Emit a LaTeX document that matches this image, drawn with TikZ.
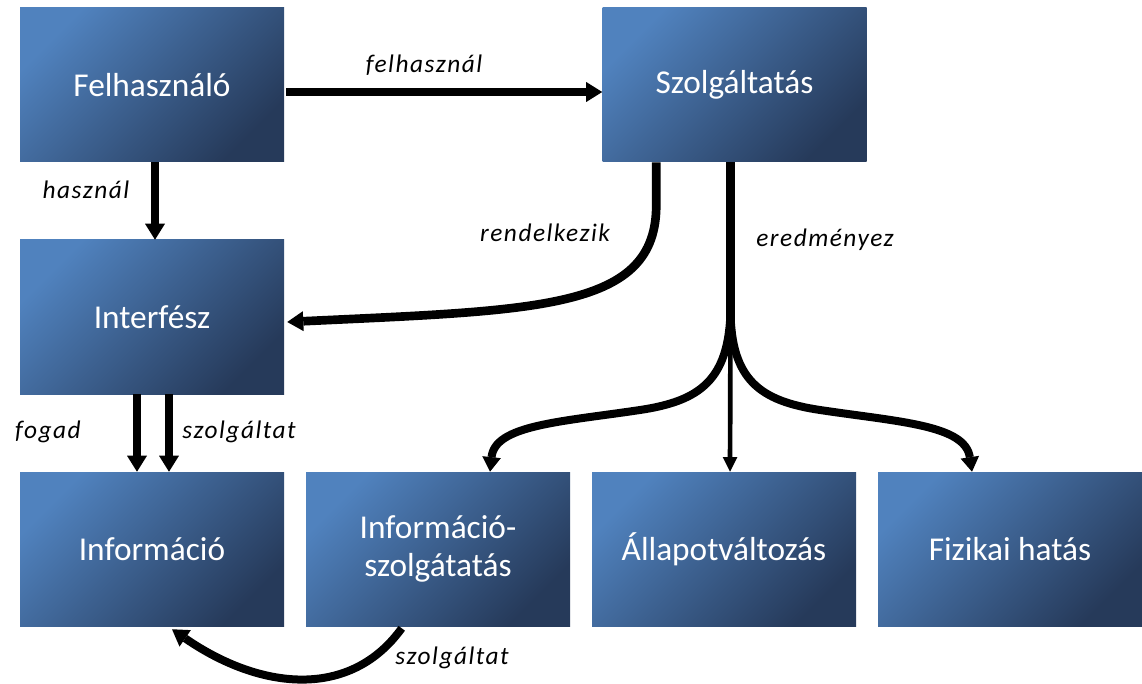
\documentclass[tikz,border=0pt]{standalone}
\usepackage{fontspec}
\setmainfont{Carlito}
\newfontfamily\labelfont[LetterSpace=6]{Carlito}
\usetikzlibrary{arrows.meta,calc}
\definecolor{boxlight}{RGB}{80,130,190}
\definecolor{boxdark}{RGB}{38,58,90}
\begin{document}
\begin{tikzpicture}[x=0.75pt,y=-0.75pt,
  box/.style={rectangle, minimum width=198pt, minimum height=115.5pt, inner sep=0pt,
    text=white, align=center, font=\fontsize{25}{29}\selectfont,
    top color=boxlight, bottom color=boxdark, shading angle=45},
  lbl/.style={font=\labelfont\itshape\fontsize{19}{22}\selectfont, inner sep=0pt},
  tip/.style={-{Triangle[length=12pt,width=15pt,line width=0pt]}},
  conn/.style={tip, line width=6.5pt},
  branch/.style={-{Triangle[length=11pt,width=14pt,line width=0pt]}, line width=6pt},
  thin conn/.style={-{Triangle[length=11pt,width=11pt,line width=0pt]}, line width=3.5pt}]
\useasboundingbox (0,0) rectangle (1142,684);

% boxes
\node[box] (felh)   at (152,85)    {Felhasználó};
\node[box] (szolg)  at (734.5,85)  {Szolgáltatás};
\node[box] (interf) at (152,317)   {Interfész};
\node[box] (info)   at (152,549)   {Információ};
\node[box] (iszolg) at (438,549)   {Információ-\\szolgátatás};
\node[box] (allap)  at (724,549)   {Állapotváltozás};
\node[box] (fiz)    at (1010,549)  {Fizikai hatás};

% straight connectors
\draw[conn] ($(felh.east)+(2,7)$) -- ($(szolg.west)+(0,7)$);
\draw[conn] ($(felh.south)+(3,0)$) -- ($(interf.north)+(3,0)$);
\draw[conn, line width=6pt] ($(interf.south)+(-15,0)$) -- ($(info.north)+(-15,0)$);
\draw[conn, line width=6pt] ($(interf.south)+(17,0)$) -- ($(info.north)+(17,0)$);

% rendelkezik
\draw[conn] ($(szolg.south west)+(54,0)$) -- ++(0,42)
  .. controls (657,310) and (540,310) .. ($(interf.east)+(3,5)$);

% eredményez: stem and three branches
\coordinate (fork) at ($(szolg.south)+(-4,148)$);
\draw[line width=6.5pt] ($(szolg.south)+(-4,0)$) -- ($(fork)+(0,18)$);
\draw[branch] (fork) .. controls (729,380) and (700,401) .. (640,410)
  .. controls (560,422) and (495,425) .. ($(iszolg.north)+(52,0)$);
\draw[branch] (fork) .. controls (731,380) and (760,401) .. (820,410)
  .. controls (900,422) and (965,425) .. ($(fiz.north)+(-38,0)$);
\draw[thin conn] ($(fork)+(0,10)$) -- ($(allap.north)+(6,0)$);

% szolgáltat (bottom)
\draw[conn, line width=6pt] ($(iszolg.south west)+(96,2)$)
  .. controls (350,700) and (260,690) .. ($(info.south)+(20,3)$);

% labels
\node[lbl] (l1) at (424,65)  {felhasznál};
\node[lbl] (l2) at (86,190)  {használ};
\node[lbl] (l3) at (545,233) {rendelkezik};
\node[lbl] (l4) at (825,240) {eredményez};
\node[lbl] (l5) at (48,432)  {fogad};
\node[lbl] (l6) at (239,432) {szolgáltat};
\node[lbl] (l7) at (452,658) {szolgáltat};
\end{tikzpicture}
\end{document}
